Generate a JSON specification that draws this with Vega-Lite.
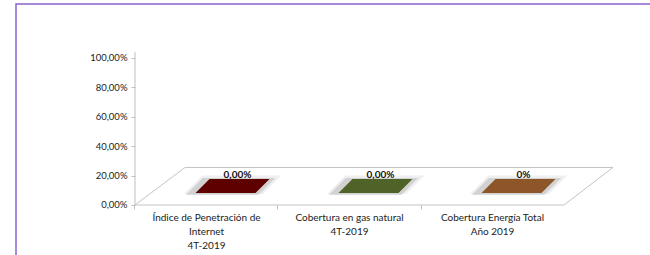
{
  "$schema": "https://vega.github.io/schema/vega-lite/v6.json",
  "width": 667,
  "height": 260,
  "autosize": {"type": "none"},
  "padding": {"left": 16, "top": 4, "right": 0, "bottom": 0},
  "background": "white",
  "data": {
    "values": [
      {"cat": "Índice de Penetración de\nInternet\n4T-2019", "value": 0, "label": "0,00%"},
      {"cat": "Cobertura en gas natural\n4T-2019", "value": 0, "label": "0,00%"},
      {"cat": "Cobertura Energía Total\nAño 2019", "value": 0, "label": "0%"}
    ]
  },
  "encoding": {
    "x": {
      "field": "cat",
      "type": "nominal",
      "sort": ["Índice de Penetración de\nInternet\n4T-2019", "Cobertura en gas natural\n4T-2019", "Cobertura Energía Total\nAño 2019"],
      "scale": {"paddingInner": 0, "paddingOuter": 0.832},
      "axis": {
        "title": null,
        "orient": "bottom",
        "offset": -59,
        "domain": false,
        "bandPosition": 0,
        "ticks": true,
        "tickSize": 4,
        "tickColor": "#bfbfbf",
        "labelAngle": 0,
        "labelPadding": 3,
        "labelFont": "Lato",
        "labelFontSize": 10,
        "labelColor": "#222222",
        "labelLineHeight": 14,
        "labelExpr": "split(datum.label, '\\n')",
        "zindex": 1
      }
    },
    "y": {
      "field": "value",
      "type": "quantitative",
      "scale": {"domain": [-0.4014, 1.3673], "nice": false, "zero": false},
      "axis": {
        "title": null,
        "offset": -119,
        "domain": false,
        "grid": false,
        "values": [0, 0.2, 0.4, 0.6, 0.8, 1],
        "format": ".2%",
        "tickSize": 4,
        "tickColor": "#bfbfbf",
        "labelPadding": 4,
        "labelFont": "Lato",
        "labelFontSize": 9.5,
        "labelColor": "#222222",
        "zindex": 1
      }
    }
  },
  "layer": [
    {
      "transform": [{"filter": "datum.cat == 'Cobertura en gas natural\\n4T-2019'"}],
      "mark": {
        "type": "point",
        "shape": "M-0.8975,0 L0.8975,0 L1.1025,-0.157 L-0.688,-0.157 Z",
        "size": 228484,
        "filled": true,
        "fill": "white",
        "stroke": "#c4c4c4",
        "strokeWidth": 1,
        "opacity": 1
      }
    },
    {
      "transform": [{"filter": "datum.cat == 'Índice de Penetración de\\nInternet\\n4T-2019'"}],
      "mark": {"type": "rule", "color": "#bfbfbf", "strokeWidth": 1},
      "encoding": {
        "x": {"field": "cat", "type": "nominal", "bandPosition": 0},
        "y": {"datum": 0},
        "y2": {"datum": 1.04}
      }
    },
    {
      "mark": {
        "type": "point",
        "shape": "M-0.463,-0.225 L1.159,-0.225 L1.537,-0.603 L-0.085,-0.603 Z",
        "size": 9500,
        "filled": true,
        "color": "#b0b0b0",
        "opacity": 0.2
      }
    },
    {
      "mark": {
        "type": "point",
        "shape": "M-0.463,-0.225 L1.159,-0.225 L1.537,-0.603 L-0.085,-0.603 Z",
        "size": 8000,
        "filled": true,
        "color": "#909090",
        "opacity": 0.3
      }
    },
    {
      "mark": {
        "type": "point",
        "shape": "M-0.297,-0.324 L1.324,-0.324 L1.703,-0.703 L0.081,-0.703 Z",
        "size": 5476,
        "filled": true,
        "opacity": 1
      },
      "encoding": {
        "color": {
          "field": "cat",
          "type": "nominal",
          "scale": {
            "domain": ["Índice de Penetración de\nInternet\n4T-2019", "Cobertura en gas natural\n4T-2019", "Cobertura Energía Total\nAño 2019"],
            "range": ["#5e0000", "#4f6228", "#8c5628"]
          },
          "legend": null
        }
      }
    },
    {
      "mark": {
        "type": "text",
        "font": "Lato",
        "fontSize": 10,
        "fontWeight": "bold",
        "color": "#111111",
        "baseline": "middle",
        "align": "center",
        "dx": 31,
        "dy": -30
      },
      "encoding": {"text": {"field": "label"}}
    }
  ],
  "config": {
    "locale": {
      "number": {"decimal": ",", "thousands": ".", "grouping": [3], "currency": ["", " €"]}
    },
    "view": {"stroke": "#8b62cc", "strokeWidth": 1.5}
  }
}
